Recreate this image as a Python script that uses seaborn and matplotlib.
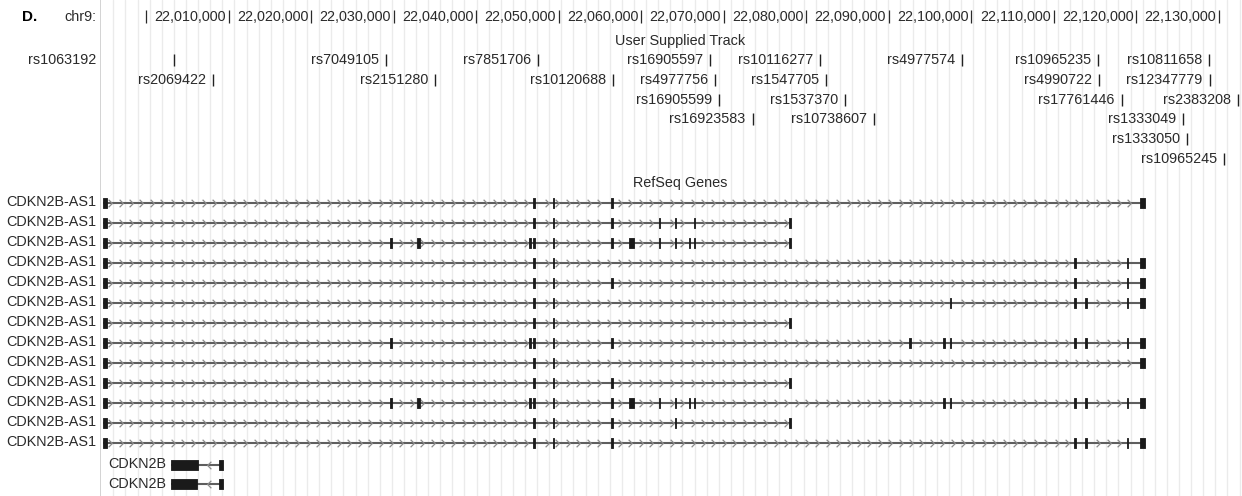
import numpy as np
import pandas as pd
import matplotlib
matplotlib.use("Agg")
import matplotlib.pyplot as plt
import matplotlib.transforms as mtransforms
from matplotlib.path import Path
import seaborn as sns

# ---- data (chr9, hg19 bp) ----
ruler_ticks = list(range(22000000, 22140000, 10000))

snp_ids = ["rs1063192", "rs7049105", "rs7851706", "rs16905597", "rs10116277", "rs4977574",
           "rs10965235", "rs10811658",
           "rs2069422", "rs2151280", "rs10120688", "rs4977756", "rs1547705", "rs4990722",
           "rs12347779",
           "rs16905599", "rs1537370", "rs17761446", "rs2383208",
           "rs16923583", "rs10738607", "rs1333049",
           "rs1333050",
           "rs10965245"]
snp_pos = [22003400, 22029030, 22047450, 22068340, 22081670, 22098850,
           22115400, 22128860,
           22008130, 22035000, 22056620, 22068950, 22082400, 22115500,
           22128900,
           22069430, 22084700, 22118240, 22132300,
           22073510, 22088250, 22125710,
           22126120,
           22130680]
snp_row = [0, 0, 0, 0, 0, 0, 0, 0,
           1, 1, 1, 1, 1, 1, 1,
           2, 2, 2, 2,
           3, 3, 3,
           4,
           5]
snp_in_margin = ["rs1063192"]

# CDKN2B-AS1 exons, transcripts listed as exon indices
exon_start = [21994800, 22029600, 22032850, 22046450, 22046850, 22049270, 22056390,
              22058480, 22062120, 22064060, 22065760, 22066410, 22077900, 22092450,
              22096630, 22097390, 22112500, 22113840, 22118890, 22120500]
exon_end = [21995250, 22029750, 22033150, 22046600, 22047100, 22049420, 22056530,
            22059160, 22062270, 22064210, 22065910, 22066560, 22078100, 22092720,
            22096780, 22097540, 22112650, 22113990, 22119040, 22121100]
as1_transcripts = [
    [0, 4, 5, 6, 19],
    [0, 4, 5, 6, 8, 9, 11, 12],
    [0, 1, 2, 3, 4, 5, 6, 7, 8, 9, 10, 11, 12],
    [0, 4, 5, 16, 18, 19],
    [0, 4, 5, 6, 16, 18, 19],
    [0, 4, 5, 15, 16, 17, 18, 19],
    [0, 4, 5, 12],
    [0, 1, 3, 4, 5, 6, 13, 14, 15, 16, 17, 18, 19],
    [0, 4, 5, 19],
    [0, 4, 5, 6, 12],
    [0, 1, 2, 3, 4, 5, 6, 7, 8, 9, 10, 11, 14, 15, 16, 17, 18, 19],
    [0, 4, 5, 6, 9, 12],
    [0, 4, 5, 6, 16, 17, 18, 19],
]
cdkn2b_start = [[22003000, 22008850], [22003000, 22008850]]
cdkn2b_end = [[22006300, 22009310], [22006200, 22009310]]

# ---- layout ----
W, H = 1242, 496
LEFT = 100
BP_PER_PX = 121.21
x_min = 22010000 - (228.7 - LEFT) * BP_PER_PX
x_max = 22010000 + (W - 228.7) * BP_PER_PX

sns.set_style("white")
plt.rcParams["font.family"] = ["Liberation Sans", "DejaVu Sans"]
plt.rcParams["font.size"] = 10.4
TXT = "#2a2a2a"

fig = plt.figure(figsize=(W / 100, H / 100), dpi=100)
ax = fig.add_axes([LEFT / W, 0, 1 - LEFT / W, 1])
lab = mtransforms.blended_transform_factory(fig.transFigure, ax.transData)
mid = mtransforms.blended_transform_factory(ax.transAxes, ax.transData)
LAB_X = 96 / W

# guidelines
for g in np.arange(x_min + 13.3 * BP_PER_PX, x_max, 12.11 * BP_PER_PX):
    ax.axvline(g, color="#ebebeb", lw=1, zorder=0)
ax.axvline(x_min + 0.3 * BP_PER_PX, color="#cccccc", lw=1.2, zorder=0)

# header + ruler
fig.text(22 / W, 1 - 17 / H, "D.", fontsize=11, fontweight="bold", va="center", color="black")
ax.text(LAB_X, 17, "chr9:", transform=lab, ha="right", va="center", color=TXT)
ax.vlines(ruler_ticks, 10, 23, color=TXT, lw=0.9)
for t in ruler_ticks[1:]:
    ax.annotate(f"{t:,}", xy=(t, 17), xytext=(-2, 0), textcoords="offset points",
                ha="right", va="center", color=TXT)

# user supplied SNP track
title_x = (680 - LEFT) / (W - LEFT)
ax.text(title_x, 41, "User Supplied Track", transform=mid, ha="center", va="center", color=TXT)
snp_df = pd.DataFrame({"id": snp_ids, "pos": snp_pos, "row": snp_row})
snp_df["y"] = 60 + 19.8 * snp_df["row"]
sns.scatterplot(data=snp_df, x="pos", y="y", marker="|", s=64, linewidth=1.0,
                color="#222222", ax=ax, legend=False, zorder=3)
for _, r in snp_df.iterrows():
    if r["id"] in snp_in_margin:
        ax.text(LAB_X, r["y"], r["id"], transform=lab, ha="right", va="center", color=TXT)
    else:
        ax.annotate(r["id"], xy=(r["pos"], r["y"]), xytext=(-5, 0), textcoords="offset points",
                    ha="right", va="center", color=TXT)

# RefSeq genes
ax.text(title_x, 183, "RefSeq Genes", transform=mid, ha="center", va="center", color=TXT)

chev_right = Path([(-0.5, 1), (0.5, 0), (-0.5, -1)], [Path.MOVETO, Path.LINETO, Path.LINETO])
chev_left = Path([(0.5, 1), (-0.5, 0), (0.5, -1)], [Path.MOVETO, Path.LINETO, Path.LINETO])


def draw_gene(starts, ends, y, strand):
    s0, e0 = min(starts), max(ends)
    ax.hlines(y, s0, e0, color="#5e5e5e", lw=1.5, zorder=2)
    cx = np.arange(s0 + 7 * BP_PER_PX, e0 - 2 * BP_PER_PX, 10.4 * BP_PER_PX)
    keep = [c for c in cx if all(c < s - 2.5 * BP_PER_PX or c > e + 2.5 * BP_PER_PX
                                 for s, e in zip(starts, ends))]
    ax.plot(keep, [y] * len(keep), ls="none", marker=chev_right if strand == "+" else chev_left,
            ms=5.4, mew=0.9, mec="#8c8c8c", mfc="none", zorder=2)
    ax.broken_barh([(s, max(e - s, 1.4 * BP_PER_PX)) for s, e in zip(starts, ends)],
                   (y - 5, 10), facecolor="#1a1a1a", edgecolor="#1a1a1a", lw=0.6, zorder=3)


for i, tx in enumerate(as1_transcripts):
    y = 202.5 + 20 * i
    draw_gene([exon_start[k] for k in tx], [exon_end[k] for k in tx], y, "+")
    ax.text(LAB_X, y, "CDKN2B-AS1", transform=lab, ha="right", va="center", color=TXT)

for j in range(len(cdkn2b_start)):
    y = 464.5 + 19.5 * j
    draw_gene(cdkn2b_start[j], cdkn2b_end[j], y, "-")
    ax.annotate("CDKN2B", xy=(min(cdkn2b_start[j]), y), xytext=(-3.4, 0), textcoords="offset points",
                ha="right", va="center", color=TXT)

ax.set_xlim(x_min, x_max)
ax.set_ylim(H, 0)
ax.axis("off")

fig.savefig("out.png", dpi=100)
